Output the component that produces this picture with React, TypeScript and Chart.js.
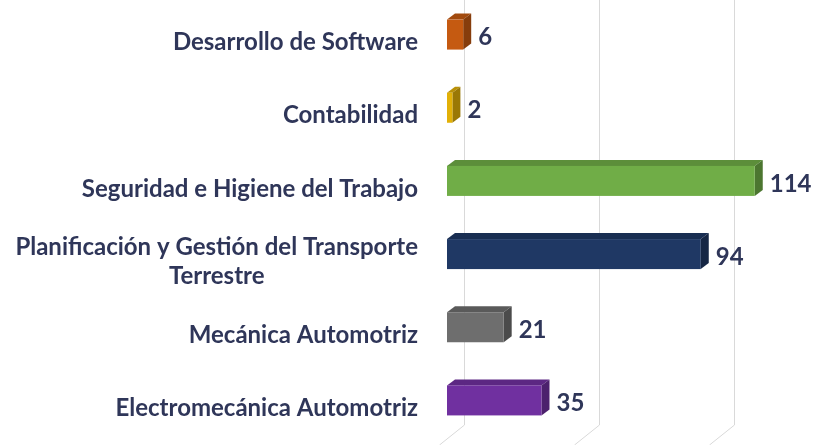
import React, { useEffect, useRef } from "react";
import { Chart, registerables } from "chart.js";

Chart.register(...registerables);

const categories: (string | string[])[] = [
  "Desarrollo de Software",
  "Contabilidad",
  "Seguridad e Higiene del Trabajo",
  ["Planificación y Gestión del Transporte", "Terrestre"],
  "Mecánica Automotriz",
  "Electromecánica Automotriz",
];
const values = [6, 2, 114, 94, 21, 35];
const barColors = ["#c55a11", "#e2b007", "#70ad47", "#1f3864", "#6e6e6e", "#7030a0"];
const gridValues = [0, 50, 100];

const TEXT = "#2f3659";
const DX = 8;
const DY = 6;
const BAR_H = 30;
const BAR_SHIFT = 8;
const GRID_SHIFT = 17;

function shade(hex: string, f: number) {
  const n = parseInt(hex.slice(1), 16);
  const r = Math.round(((n >> 16) & 255) * f);
  const g = Math.round(((n >> 8) & 255) * f);
  const b = Math.round((n & 255) * f);
  return `rgb(${Math.min(255, r)},${Math.min(255, g)},${Math.min(255, b)})`;
}

const threeD = {
  id: "threeD",
  beforeDatasetsDraw(chart: any) {
    const ctx = chart.ctx;
    const xs = chart.scales.x;
    const h = chart.height;
    ctx.save();
    ctx.strokeStyle = "#d9d9d9";
    ctx.lineWidth = 1;
    gridValues.forEach((v) => {
      const px = Math.round(xs.getPixelForValue(v) + GRID_SHIFT) + 0.5;
      ctx.beginPath();
      ctx.moveTo(px, 0);
      ctx.lineTo(px, h - 20);
      ctx.lineTo(px - 25, h);
      ctx.stroke();
    });
    ctx.restore();
  },
  afterDatasetsDraw(chart: any) {
    const ctx = chart.ctx;
    const meta = chart.getDatasetMeta(0);
    ctx.save();
    meta.data.forEach((el: any, i: number) => {
      const { x, y, base } = el.getProps(["x", "y", "base"], true);
      const left = Math.min(x, base);
      const right = Math.max(x, base);
      const cy = y - BAR_SHIFT;
      const top = cy - BAR_H / 2;
      const bottom = cy + BAR_H / 2;
      const c = barColors[i];
      ctx.fillStyle = shade(c, 0.82);
      ctx.beginPath();
      ctx.moveTo(left, top);
      ctx.lineTo(left + DX, top - DY);
      ctx.lineTo(right + DX, top - DY);
      ctx.lineTo(right, top);
      ctx.closePath();
      ctx.fill();
      ctx.fillStyle = shade(c, 0.68);
      ctx.beginPath();
      ctx.moveTo(right, top);
      ctx.lineTo(right + DX, top - DY);
      ctx.lineTo(right + DX, bottom - DY);
      ctx.lineTo(right, bottom);
      ctx.closePath();
      ctx.fill();
      ctx.fillStyle = c;
      ctx.fillRect(left, top, right - left, BAR_H);
      ctx.fillStyle = TEXT;
      ctx.font = "bold 24px Lato";
      ctx.textAlign = "left";
      ctx.textBaseline = "middle";
      ctx.fillText(String(values[i]), right + DX + 7, y - 5);
    });
    ctx.restore();
  },
  afterDraw(chart: any) {
    const ctx = chart.ctx;
    const ys = chart.scales.y;
    const rightEdge = 418;
    const lineH = 29;
    ctx.save();
    ctx.fillStyle = TEXT;
    ctx.font = "bold 24px Lato";
    ctx.textBaseline = "middle";
    ctx.textAlign = "center";
    categories.forEach((lab, i) => {
      const lines = Array.isArray(lab) ? lab : [lab];
      const w = Math.max(...lines.map((l) => ctx.measureText(l).width));
      const cx = rightEdge - w / 2;
      const cy = ys.getPixelForValue(i);
      const startY = cy - ((lines.length - 1) * lineH) / 2;
      lines.forEach((l, j) => ctx.fillText(l, cx, startY + j * lineH));
    });
    ctx.restore();
  },
};

export default function App() {
  const ref = useRef<HTMLCanvasElement | null>(null);
  useEffect(() => {
    if (!ref.current) return;
    const chart = new Chart(ref.current, {
      type: "bar",
      data: {
        labels: categories as any,
        datasets: [
          {
            data: values,
            backgroundColor: "rgba(0,0,0,0)",
            borderWidth: 0,
            barThickness: BAR_H,
          },
        ],
      },
      options: {
        indexAxis: "y",
        animation: false,
        responsive: false,
        layout: { padding: { top: 6, bottom: 0, left: 0, right: 0 } },
        plugins: { legend: { display: false }, tooltip: { enabled: false } },
        scales: {
          x: { display: false, min: 0, max: 137.8 },
          y: {
            grid: { display: false },
            border: { display: false },
            ticks: { display: false },
            afterFit(scale: any) {
              scale.width = 447;
            },
          },
        },
      },
      plugins: [threeD],
    });
    return () => chart.destroy();
  }, []);
  return (
    <div style={{ position: "fixed", left: 0, top: 0, width: 819, height: 445, background: "#fff" }}>
      <canvas ref={ref} width={819} height={445} />
    </div>
  );
}
